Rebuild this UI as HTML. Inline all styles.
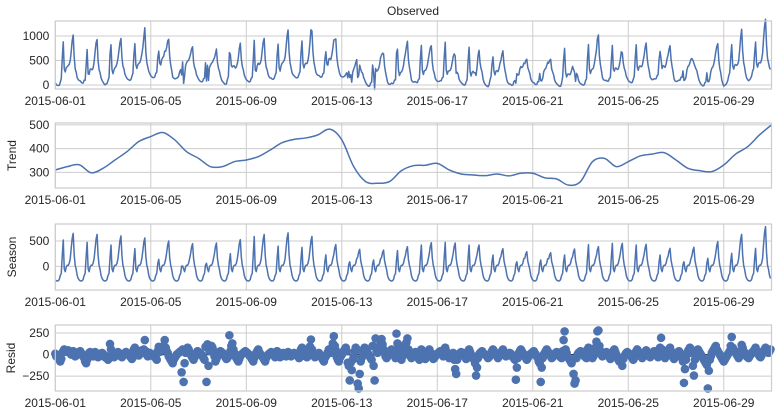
<!DOCTYPE html>
<html><head><meta charset="utf-8"><style>
html,body{margin:0;padding:0;background:#fff;}
svg{display:block;font-family:"Liberation Sans",sans-serif;}
</style></head><body>
<svg id="chart" width="778" height="418" viewBox="0 0 778 418" xmlns="http://www.w3.org/2000/svg"></svg>
<script>
// ---- data ----
const xTickLabels = ["2015-06-01","2015-06-05","2015-06-09","2015-06-13","2015-06-17","2015-06-21","2015-06-25","2015-06-29"];
const xTickDays = [0,4,8,12,16,20,24,28];
// trend every 12 hours (61 values)
const trendValues = [310,324,332,298,317,352,387,430,451,468,437,387,359,324,324,345,352,366,394,425,439,445,458,482,437,324,261,254,261,307,328,330,338,310,293,289,286,293,285,296,296,277,272,246,261,345,359,324,345,369,377,383,352,317,307,303,331,377,408,458,500];
// season: per-day morning spike and evening peak
const seasonSpike = [520,474,421,349,138,7,60,250,590,400,375,225,90,125,310,420,474,420,224,90,125,224,428,454,421,224,90,158,257,355];
const seasonPeak = [651,630,600,560,500,447,460,526,630,660,590,430,335,320,388,467,460,420,349,290,270,342,388,454,434,355,375,487,632,783];
// hourly profile of season (S = spike, P = peak, number = fixed)
const seasonProfile = [-270,-285,-290,-285,-260,-180,-140,"S0.4","S1",-50,-106,-10,20,20,60,150,"P0.55","P0.85","P1","P0.35",20,-60,-180,-240];
const residValues = [
10,-20,-30,-40,-60,-80,-50,20,40,60,50,40,30,50,40,20,0,30,40,10,-20,-10,0,20,
30,40,20,0,-20,-40,-80,-100,-60,-30,20,30,10,-10,-20,10,30,20,-10,-30,-20,0,10,20,
10,-10,-30,-20,-40,-60,-40,123,60,20,-10,-30,-20,0,20,30,10,-10,-20,-30,-10,10,20,30,
20,10,0,-20,-30,-50,-30,60,80,40,20,0,-10,10,30,50,20,60,168,40,0,-20,10,20,
10,0,-10,-20,-30,-40,-60,40,90,30,50,60,75,100,168,80,40,20,-20,-40,-60,-80,-100,-60,
-40,-20,0,10,20,30,40,-205,60,-317,-100,20,50,80,60,30,10,-20,-40,-60,-30,0,20,40,
30,20,10,0,-20,-40,-60,90,-317,120,-130,40,60,100,80,40,-20,-80,-50,-20,0,20,40,30,
20,10,-10,-30,-50,-40,-20,224,40,100,130,60,20,-20,-40,-60,-80,-50,-20,0,10,20,30,40,
30,20,10,-10,-20,-40,-60,-80,-40,-10,20,40,60,30,10,-10,-20,-40,-60,-80,-40,-20,0,10,
20,30,10,0,-10,-30,-20,40,20,-10,-30,-20,0,20,10,-10,-20,10,30,20,0,-20,-10,10,
20,10,0,-10,-20,-40,-30,60,80,40,10,-10,-20,-30,-10,40,93,175,60,20,-10,-30,-20,0,
10,20,0,-20,-40,-60,-80,-40,-20,0,30,60,40,20,80,130,213,100,50,-30,-60,-80,-40,-20,
0,20,40,60,80,40,-93,-130,-300,-93,-180,-60,-20,40,80,60,-336,-392,-224,-80,-40,20,60,80,
60,40,20,0,-20,-40,-60,100,-130,-300,187,40,20,60,100,150,180,120,60,20,-20,-40,-20,0,
20,40,60,40,20,0,-40,243,130,60,0,-40,-60,-20,20,80,120,140,187,60,20,-20,-40,-20,
0,20,30,10,-20,-40,-60,40,60,20,-10,-30,-50,-20,10,40,60,30,0,-30,-50,-40,-20,0,
10,20,30,40,20,0,-20,60,80,40,10,-20,-40,-30,-20,0,20,-60,-168,-224,-60,-20,0,20,
30,20,10,-10,-30,-50,-40,40,60,30,0,-20,-30,-60,-100,-243,-150,-40,0,20,30,40,20,10,
0,-10,-20,-40,-30,-10,20,40,60,40,20,0,-20,-40,-20,0,20,40,60,30,0,-20,-10,0,
10,20,10,-10,-30,-40,-60,-291,-150,-40,20,40,60,40,20,0,-20,-40,-60,-40,-20,0,10,20,
30,40,20,0,-20,-40,-80,-100,-317,-150,-40,0,20,40,60,40,20,0,-20,-40,-30,-10,10,20,
30,20,10,-10,-30,-40,40,168,269,60,20,-20,-40,-60,-80,-100,-60,-224,-336,-300,-40,0,20,30,
40,30,20,0,-20,-30,-40,60,80,40,10,-20,-40,-20,40,80,150,269,280,100,40,0,-20,-10,
10,20,30,10,-10,-30,-50,-20,20,40,60,30,0,-30,-60,-80,-60,-40,-130,-50,-20,0,20,30,
20,10,0,-20,-40,-60,-40,20,40,60,40,20,0,-20,-40,-20,0,30,50,30,0,-20,-30,-10,
0,20,40,30,10,-10,-30,60,80,194,60,20,-20,-40,-20,10,40,60,80,40,0,-30,-50,-30,
-10,10,30,40,20,0,-40,-80,-328,-168,-60,0,40,60,80,60,20,-130,-243,-60,0,40,60,40,
20,0,-20,-40,-60,-80,-100,-120,-392,-187,-60,-20,20,40,60,80,100,60,40,20,0,-20,-40,-60,
-80,-60,-40,-20,0,20,40,100,205,80,60,40,20,0,-20,-40,-20,40,112,80,40,20,0,-20,
-30,-40,-20,0,20,30,40,60,80,40,20,0,-20,-30,-10,20,40,60,80,60,40,20,40,60];
const obsTicks = [0,500,1000];
const trendTicks = [300,400,500];
const seasonTicks = [0,500];
const residTicks = [-250,0,250];

// ---- layout ----
const NS = "http://www.w3.org/2000/svg";
const svg = document.getElementById("chart");
const X0 = 55.3, X1 = 771.5, DAYS = 30;
const xScale = h => X0 + (h/24) * (X1 - X0) / DAYS;
const COLOR = "#4c72b0";
function el(tag, attrs, parent){const e=document.createElementNS(NS,tag);for(const k in attrs)e.setAttribute(k,attrs[k]);(parent||svg).appendChild(e);return e;}

// derived hourly series
const N = 720;
const season = [], trendH = [], observed = [];
for (let i=0;i<N;i++){
  const d=Math.floor(i/24), h=i%24, p=seasonProfile[h];
  let v;
  if (typeof p==="number") v=p;
  else if (p[0]==="S") v=seasonSpike[d]*parseFloat(p.slice(1));
  else v=seasonPeak[d]*parseFloat(p.slice(1));
  season.push(v);
  const t=i/12, k=Math.min(Math.floor(t),trendValues.length-2), f=t-k;
  trendH.push(trendValues[k]*(1-f)+trendValues[k+1]*f);
  observed.push(trendH[i]+season[i]+residValues[i]);
}

const panels = [
  {name:"observed", top:21, bottom:89, vTop:1306, vBot:-82, ticks:obsTicks, label:null},
  {name:"trend", top:123, bottom:188, vTop:508, vBot:234, ticks:trendTicks, label:"Trend"},
  {name:"season", top:224, bottom:290, vTop:836, vBot:-468, ticks:seasonTicks, label:"Season"},
  {name:"resid", top:325, bottom:391, vTop:343, vBot:-422, ticks:residTicks, label:"Resid"}
];

panels.forEach(p=>{
  const g = el("g",{});
  
  
  const y = v => p.top + (p.vTop - v)/(p.vTop - p.vBot)*(p.bottom - p.top);
  p.y = y;
  // grid
  xTickDays.forEach((d,i)=>{
    const x=xScale(d*24);
    const gl=el("line",{x1:x,x2:x,y1:p.top,y2:p.bottom,stroke:"#cccccc","stroke-width":1},g);
    
    
    const t=el("text",{x:x,y:p.bottom+16,"font-size":"12","text-anchor":"middle",fill:"#262626"},g);
    t.textContent=xTickLabels[i];
    
    
  });
  p.ticks.forEach(v=>{
    const yy=y(v);
    const gl=el("line",{x1:X0,x2:X1,y1:yy,y2:yy,stroke:"#cccccc","stroke-width":1},g);
    
    
    const t=el("text",{x:X0-6,y:yy+4,"font-size":"12","text-anchor":"end",fill:"#262626"},g);
    t.textContent=String(v).replace("-","\u2212");
    
    
  });
  if (p.label){
    const cy=(p.top+p.bottom)/2;
    const t=el("text",{x:0,y:0,"font-size":"12","text-anchor":"middle",fill:"#262626",transform:`translate(${p.name==="resid"?15:16},${cy}) rotate(-90)`},g);
    t.textContent=p.label;
    
    
  }
  p.g=g;
});

// observed line
{
  const p=panels[0];
  const d=observed.map((v,i)=>(i?"L":"M")+xScale(i).toFixed(2)+","+p.y(v).toFixed(2)).join("");
  const path=el("path",{d:d,fill:"none",stroke:COLOR,"stroke-width":1.5,"stroke-linejoin":"round"},p.g);
  
  
}
// trend smooth line
{
  const p=panels[1];
  const pts=trendValues.map((v,i)=>[xScale(i*12),p.y(v)]);
  let d="M"+pts[0][0]+","+pts[0][1];
  for(let i=0;i<pts.length-1;i++){
    const p0=pts[Math.max(i-1,0)],p1=pts[i],p2=pts[i+1],p3=pts[Math.min(i+2,pts.length-1)];
    const c1=[p1[0]+(p2[0]-p0[0])/6,p1[1]+(p2[1]-p0[1])/6];
    const c2=[p2[0]-(p3[0]-p1[0])/6,p2[1]-(p3[1]-p1[1])/6];
    d+=`C${c1[0].toFixed(2)},${c1[1].toFixed(2)} ${c2[0].toFixed(2)},${c2[1].toFixed(2)} ${p2[0].toFixed(2)},${p2[1].toFixed(2)}`;
  }
  const path=el("path",{d:d,fill:"none",stroke:COLOR,"stroke-width":1.5},p.g);
  
  
}
// season line
{
  const p=panels[2];
  const d=season.map((v,i)=>(i?"L":"M")+xScale(i).toFixed(2)+","+p.y(v).toFixed(2)).join("");
  const path=el("path",{d:d,fill:"none",stroke:COLOR,"stroke-width":1.5,"stroke-linejoin":"round"},p.g);
  
  
}
// resid scatter
{
  const p=panels[3];
  const zl=el("line",{x1:X0,x2:X1,y1:p.y(0),y2:p.y(0),stroke:"#262626","stroke-width":1.2},p.g);
  
  
  residValues.forEach((v,i)=>{
    const c=el("circle",{cx:xScale(i).toFixed(2),cy:p.y(v).toFixed(2),r:4.3,fill:COLOR},p.g);
    
    
  });
}
// frames
panels.forEach(p=>{
  const r=el("rect",{x:X0,y:p.top,width:X1-X0,height:p.bottom-p.top,fill:"none",stroke:"#cccccc","stroke-width":1.2});
  
  
});
{
  const t=el("text",{x:413,y:15,"font-size":"12","text-anchor":"middle",fill:"#262626"});
  t.textContent="Observed";
  
  
}
</script>
</body></html>
